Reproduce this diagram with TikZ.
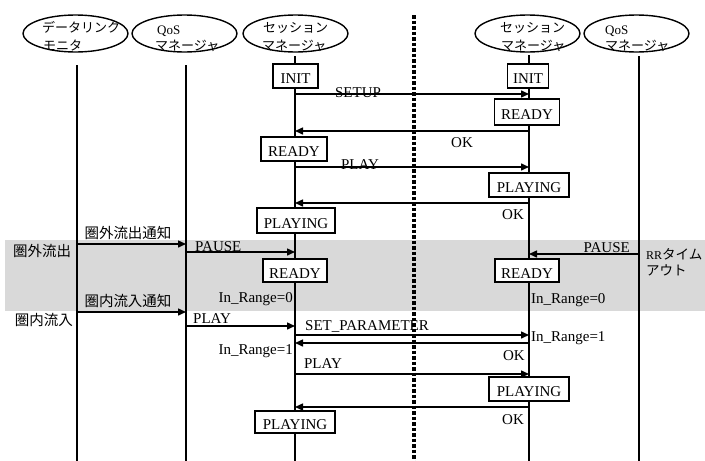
\documentclass[tikz,border=0pt]{standalone}
\usepackage{fontspec}
\setmainfont{Liberation Serif}
\newfontfamily\jp{Noto Sans CJK JP}
\usetikzlibrary{shapes.geometric,arrows.meta}
\begin{document}
\begin{tikzpicture}[x=1pt,y=-1pt,
  actor/.style={draw,ellipse,line width=1.4pt,minimum width=105pt,minimum height=37pt,inner sep=0pt},
  lab/.style={font=\fontsize{15}{17}\selectfont,inner sep=0pt},
  jlab/.style={font=\jp\fontsize{14.5}{16}\selectfont,inner sep=0pt},
  etxt/.style={font=\jp\fontsize{13}{15}\selectfont,inner sep=0pt,anchor=base west},
  eqos/.style={font=\fontsize{13}{15}\selectfont,inner sep=0pt,anchor=base west},
  stbox/.style={draw,fill=white,line width=1.5pt,minimum height=24pt,inner sep=0pt,text height=15.5pt,text depth=0pt,font=\fontsize{15}{17}\selectfont},
  life/.style={line width=1.6pt},
  msg/.style={line width=1.5pt,-{Triangle[length=8pt,width=7pt]}},
  ]
\useasboundingbox (0,0) rectangle (705,461);
\fill[white] (0,0) rectangle (705,461);
% gray band
\fill[black!15] (5,240) rectangle (705,311);

% actors
\node[actor] (e1) at (75.5,33.5) {};
\node[actor] (e2) at (184.5,33.5) {};
\node[actor] (e3) at (295.5,33.5) {};
\node[actor] (e4) at (527.5,33.5) {};
\node[actor] (e5) at (636.5,33.5) {};
\node[etxt] (t1a) at (42,32) {データリンク};
\node[etxt] (t1b) at (43,50) {モニタ};
\node[eqos] (t2a) at (157,34) {QoS};
\node[etxt] (t2b) at (155,50) {マネージャ};
\node[etxt] (t3a) at (263,32) {セッション};
\node[etxt] (t3b) at (262,50) {マネージャ};
\node[etxt] (t4a) at (500,32) {セッション};
\node[etxt] (t4b) at (501,50) {マネージャ};
\node[eqos] (t5a) at (605,34) {QoS};
\node[etxt] (t5b) at (605,50) {マネージャ};

% lifelines
\coordinate (dlT) at (77,65);  \coordinate (dlB) at (77,461);
\coordinate (qlT) at (186,65); \coordinate (qlB) at (186,461);
\coordinate (slT) at (295,56); \coordinate (slB) at (295,461);
\coordinate (srT) at (529,55); \coordinate (srB) at (529,461);
\coordinate (qrT) at (639,56); \coordinate (qrB) at (639,461);
\coordinate (cdT) at (414,15); \coordinate (cdB) at (414,461);
\draw[life] (dlT) -- (dlB);
\draw[life] (qlT) -- (qlB);
\draw[life] (slT) -- (slB);
\draw[life] (srT) -- (srB);
\draw[life] (qrT) -- (qrB);
\draw[line width=3.2pt,dash pattern=on 3.5pt off 2pt] (cdT) -- (cdB);

% message end points
\coordinate (m1a) at (295,94);  \coordinate (m1b) at (529,94);
\coordinate (m2a) at (529,131); \coordinate (m2b) at (295,131);
\coordinate (m3a) at (295,167); \coordinate (m3b) at (529,167);
\coordinate (m4a) at (529,203); \coordinate (m4b) at (295,203);
\coordinate (m5a) at (77,244);  \coordinate (m5b) at (186,244);
\coordinate (m6a) at (186,252); \coordinate (m6b) at (295,252);
\coordinate (m7a) at (639,254); \coordinate (m7b) at (529,254);
\coordinate (m8a) at (77,312);  \coordinate (m8b) at (186,312);
\coordinate (m9a) at (186,326); \coordinate (m9b) at (295,326);
\coordinate (m10a) at (295,335); \coordinate (m10b) at (529,335);
\coordinate (m11a) at (529,343); \coordinate (m11b) at (295,343);
\coordinate (m12a) at (295,374); \coordinate (m12b) at (529,374);
\coordinate (m13a) at (529,407); \coordinate (m13b) at (295,407);
\foreach \i in {1,...,13} {\draw[msg] (m\i a) -- (m\i b);}

% state boxes
\node[stbox,minimum width=45pt] (init1) at (295.5,76) {INIT};
\node[stbox,minimum width=41pt] (init2) at (528,76) {INIT};
\node[stbox,minimum width=65pt,minimum height=26pt] (rdy1) at (527,112) {READY};
\node[stbox,minimum width=66pt] (rdy2) at (294,149) {READY};
\node[stbox,minimum width=80pt] (ply1) at (529,185) {PLAYING};
\node[stbox,minimum width=78pt,minimum height=25pt] (ply2) at (296,220.5) {PLAYING};
\node[stbox,minimum width=64pt,minimum height=23pt] (rdy3) at (295,270.5) {READY};
\node[stbox,minimum width=64pt,minimum height=23pt] (rdy4) at (527,270.5) {READY};
\node[stbox,minimum width=80pt] (ply3) at (529,389) {PLAYING};
\node[stbox,minimum width=80pt,minimum height=22pt] (ply4) at (295,422) {PLAYING};

% message labels
\node[lab,anchor=base] (l1) at (358,97) {SETUP};
\node[lab] (l2) at (462,143) {OK};
\node[lab,anchor=base] (l3) at (360,169) {PLAY};
\node[lab] (l4) at (513,215) {OK};
\node[jlab] (l5) at (128,233) {圏外流出通知};
\node[lab,anchor=base west] (l6) at (195,251) {PAUSE};
\node[lab,anchor=base east] (l7) at (630,252) {PAUSE};
\node[jlab] (l8) at (128,301) {圏内流入通知};
\node[lab,anchor=base west] (l9) at (193,323) {PLAY};
\node[lab,anchor=base west] (l10) at (305,330) {SET\_PARAMETER};
\node[lab,anchor=east] (l11) at (525,356) {OK};
\node[lab] (l12) at (323,364) {PLAY};
\node[lab] (l13) at (513,420) {OK};

% other labels
\node[lab,anchor=east] (r1) at (293,299) {In\_Range=0};
\node[lab,anchor=west] (r2) at (531,300) {In\_Range=0};
\node[lab,anchor=west] (r3) at (531,338) {In\_Range=1};
\node[lab,anchor=east] (r4) at (293,351) {In\_Range=1};
\node[jlab] (o1) at (42,251) {圏外流出};
\node[jlab] (o2) at (44,320) {圏内流入};
\node[font=\fontsize{12}{14}\selectfont,inner sep=0pt,anchor=west] (o3) at (646,254) {RR{\jp\fontsize{13.5}{15}\selectfont タイム}};
\node[jlab,anchor=west,font=\jp\fontsize{13.5}{15}\selectfont] (o4) at (646,270) {アウト};
\end{tikzpicture}
\end{document}
